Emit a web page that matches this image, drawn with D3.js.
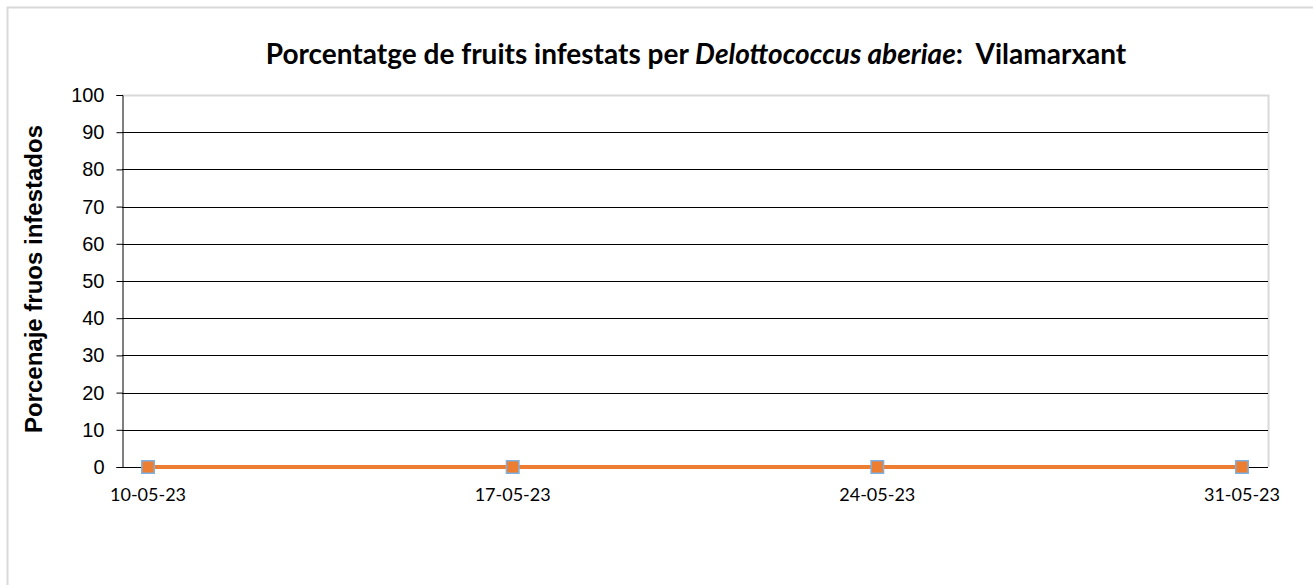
<!DOCTYPE html>
<html>
<head>
<meta charset="utf-8">
<script src="https://cdn.jsdelivr.net/npm/d3@7"></script>
<style>
  body { margin: 0; background: #fff; }
  svg { display: block; }
</style>
</head>
<body>
<script>
var dates = ["10-05-23", "17-05-23", "24-05-23", "31-05-23"];
var serieA = [0, 0, 0, 0];   // blue
var serieB = [0, 0, 0, 0];   // orange
var yTicks = [0, 10, 20, 30, 40, 50, 60, 70, 80, 90, 100];

var W = 1313, H = 585,
    plot = { left: 122, right: 1268, top: 95, bottom: 467 };

var parse = d3.timeParse("%d-%m-%y"),
    fmt = d3.timeFormat("%d-%m-%y"),
    half = 12 * 3600 * 1000;

var svg = d3.select("body").append("svg")
  .attr("width", W)
  .attr("height", H);

// chart area border
svg.append("rect")
  .attr("x", 7.5).attr("y", 7.5)
  .attr("width", W + 10).attr("height", H + 10)
  .attr("fill", "none").attr("stroke", "#d9d9d9").attr("stroke-width", 2);

var days = dates.map(parse);
var x = d3.scaleTime()
  .domain([new Date(+days[0] - half), new Date(+days[days.length - 1] + half)])
  .range([plot.left, plot.right]);
var y = d3.scaleLinear().domain([0, 100]).range([plot.bottom, plot.top]);

// plot area border (right/top gray)
svg.append("path")
  .attr("d", "M" + plot.left + "," + (plot.top + 0.5) + "H" + (plot.right + 0.5) + "V" + plot.bottom)
  .attr("fill", "none").attr("stroke", "#d9d9d9").attr("stroke-width", 2);

// gridlines
svg.append("g")
  .selectAll("line")
  .data(yTicks.filter(function(d){ return d > 0 && d < 100; }))
  .enter().append("line")
  .attr("x1", plot.left).attr("x2", plot.right)
  .attr("y1", function(d){ return Math.round(y(d)) + 0.5; })
  .attr("y2", function(d){ return Math.round(y(d)) + 0.5; })
  .attr("stroke", "#000").attr("stroke-width", 1);

// y axis
var yAxis = d3.axisLeft(y).tickValues(yTicks).tickSize(6).tickPadding(12);
svg.append("g")
  .attr("class", "yaxis")
  .attr("transform", "translate(" + (plot.left + 0.5) + ",0)")
  .call(yAxis)
  .call(function(g){
    g.select(".domain").attr("stroke", "#000");
    g.selectAll(".tick line").attr("stroke", "#000");
    g.selectAll(".tick text")
      .attr("font-family", "Liberation Sans, Arial, sans-serif")
      .attr("font-size", 20).attr("fill", "#000");
  });

// x axis line
svg.append("line")
  .attr("x1", plot.left).attr("x2", plot.right)
  .attr("y1", plot.bottom + 0.5).attr("y2", plot.bottom + 0.5)
  .attr("stroke", "#000");

// x labels
svg.append("g")
  .selectAll("text")
  .data(days)
  .enter().append("text")
  .attr("x", function(d){ return x(d); })
  .attr("y", plot.bottom + 34)
  .attr("text-anchor", "middle")
  .attr("font-family", "Lato, 'Open Sans', sans-serif")
  .attr("font-size", 18)
  .attr("fill", "#000")
  .text(function(d){ return fmt(d); });

// series lines
var line = d3.line()
  .x(function(d){ return x(d.date); })
  .y(function(d){ return y(d.v); });

function rows(vals){
  return vals.map(function(v, i){ return { date: days[i], v: v }; });
}

svg.append("path")
  .datum(rows(serieA))
  .attr("d", line)
  .attr("fill", "none").attr("stroke", "#5b9bd5").attr("stroke-width", 4);

svg.append("path")
  .datum(rows(serieB))
  .attr("d", line)
  .attr("fill", "none").attr("stroke", "#ed7d31").attr("stroke-width", 4);

// markers
svg.append("g")
  .selectAll("rect")
  .data(rows(serieA))
  .enter().append("rect")
  .attr("x", function(d){ return x(d.date) - 7; })
  .attr("y", function(d){ return y(d.v) - 7; })
  .attr("width", 14).attr("height", 14)
  .attr("fill", "#7fb0e0");

svg.append("g")
  .selectAll("rect")
  .data(rows(serieB))
  .enter().append("rect")
  .attr("x", function(d){ return x(d.date) - 5.5; })
  .attr("y", function(d){ return y(d.v) - 5.5; })
  .attr("width", 11).attr("height", 11)
  .attr("fill", "#ed7d31");

// title
var title = svg.append("text")
  .attr("x", 696).attr("y", 64)
  .attr("text-anchor", "middle")
  .attr("font-family", "Lato, 'Open Sans', sans-serif")
  .attr("font-weight", "bold")
  .attr("font-size", 28)
  .attr("fill", "#000");
title.append("tspan").text("Porcentatge de fruits infestats per ");
title.append("tspan").attr("font-style", "italic").text("Delottococcus aberiae");
title.append("tspan").text(":\u00a0 Vilamarxant");

// y axis title
svg.append("text")
  .attr("transform", "translate(42," + ((plot.top + plot.bottom) / 2 - 2) + ") rotate(-90)")
  .attr("text-anchor", "middle")
  .attr("font-family", "Liberation Sans, Arial, sans-serif")
  .attr("font-weight", "bold")
  .attr("font-size", 24)
  .attr("fill", "#000")
  .text("Porcenaje fruos infestados");
</script>
</body>
</html>
